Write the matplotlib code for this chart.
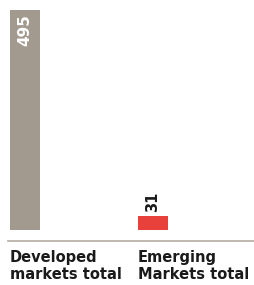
import matplotlib.pyplot as plt
import matplotlib.transforms as mtransforms
from matplotlib.lines import Line2D

categories = ["Developed\nmarkets total", "Emerging\nMarkets total"]
values = [495, 31]
colors = ["#a39a8f", "#e8403a"]

W, H = 254, 285
fig = plt.figure(figsize=(W / 100, H / 100), dpi=100)
# bars: first centre at 25px, spacing 128px, width 30px; baseline 55px from bottom
ax = fig.add_axes([0, 55 / H, 1, 220 / H])
ax.set_xlim(-25 / 128, (W - 25) / 128)
ax.set_ylim(0, 495)
width = 30 / 128

x = list(range(len(values)))
ax.bar(x, values, width=width, color=colors)
ax.axis("off")

font = ["Century Gothic", "DejaVu Sans"]

# value labels
ax.text(x[0], values[0] - 9, str(values[0]), rotation=90, ha="center", va="top",
        color="white", fontsize=11, fontweight="bold", family=font)
ax.text(x[1], values[1] + 10, str(values[1]), rotation=90, ha="center", va="bottom",
        color="#1a1a1a", fontsize=10.5, fontweight="bold", family=font)

# baseline rule
fig.add_artist(Line2D([8 / W, 1], [44 / H, 44 / H], color="#b3aca3", linewidth=1.2))

# category labels
trans = mtransforms.blended_transform_factory(ax.transData, fig.transFigure)
for xi, label in zip(x, categories):
    ax.text(xi - width / 2, 35 / H, label, transform=trans, ha="left", va="top",
            fontsize=10.5, fontweight="bold", color="#1a1a1a", linespacing=1.2,
            family=font)

fig.savefig("out.png", dpi=100)
